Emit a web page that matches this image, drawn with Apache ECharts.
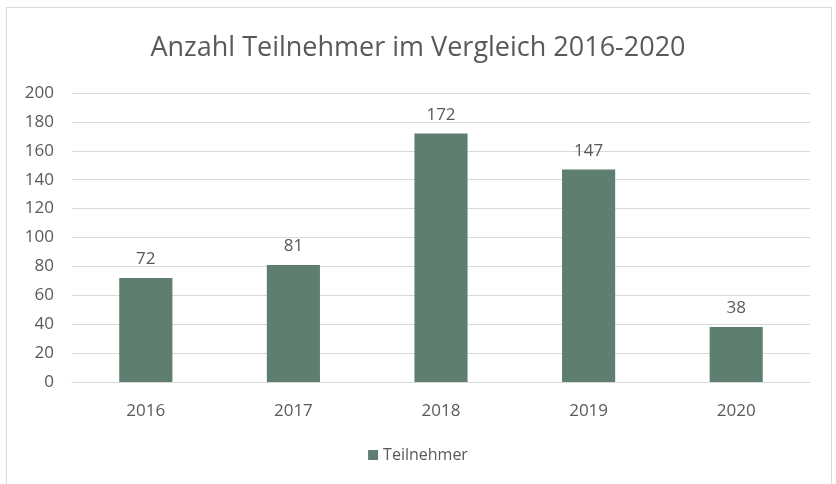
<!DOCTYPE html>
<html>
<head>
<meta charset="utf-8">
<script src="https://cdn.jsdelivr.net/npm/echarts@6/dist/echarts.min.js"></script>
<style>
  html, body { margin: 0; padding: 0; background: #fff; }
  #frame {
    position: absolute; left: 6px; top: 7px; width: 826px; height: 485px;
    border: 1px solid #d9d9d9; box-sizing: border-box;
  }
  #chart { position: absolute; left: 0; top: 0; width: 836px; height: 484px; }
</style>
</head>
<body>
<div id="frame"></div>
<div id="chart"></div>
<script>
const years = ['2016', '2017', '2018', '2019', '2020'];
const participants = [72, 81, 172, 147, 38];

const chart = echarts.init(document.getElementById('chart'));
const textColor = '#595959';
const font = '"Open Sans", "Noto Sans", sans-serif';

chart.setOption({
  animation: false,
  textStyle: { fontFamily: font },
  title: {
    text: 'Anzahl Teilnehmer im Vergleich 2016-2020',
    left: 'center',
    top: 30,
    textStyle: { fontSize: 27, fontWeight: 'normal', color: textColor, fontFamily: font }
  },
  legend: {
    bottom: 16,
    left: 'center',
    itemWidth: 10,
    itemHeight: 10,
    icon: 'rect',
    textStyle: { fontSize: 16, color: textColor },
    data: ['Teilnehmer']
  },
  grid: { left: 72, right: 26, top: 93, bottom: 102 },
  xAxis: {
    type: 'category',
    data: years,
    axisTick: { show: false },
    axisLine: { lineStyle: { color: '#d9d9d9' } },
    axisLabel: { fontSize: 17, color: textColor, margin: 21 }
  },
  yAxis: {
    type: 'value',
    min: 0,
    max: 200,
    interval: 20,
    axisLabel: { fontSize: 17, color: textColor, margin: 18 },
    splitLine: { lineStyle: { color: '#d9d9d9' } }
  },
  series: [{
    name: 'Teilnehmer',
    type: 'bar',
    data: participants,
    barWidth: '36%',
    itemStyle: { color: '#5e7f6f' },
    label: { show: true, position: 'top', distance: 10, fontSize: 17, color: textColor }
  }]
});
</script>
</body>
</html>
